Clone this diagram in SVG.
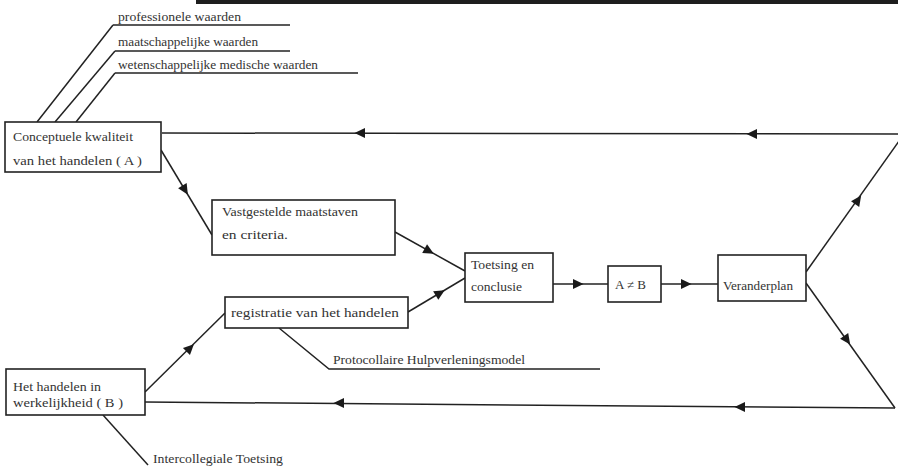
<svg xmlns="http://www.w3.org/2000/svg" xmlns:xlink="http://www.w3.org/1999/xlink" width="898" height="468" viewBox="0 0 898 468">
<style>
.box{fill:#fff;stroke:#222;stroke-width:1.6}
.ln{fill:none;stroke:#222;stroke-width:1.5}
.t{font-family:"Liberation Serif","DejaVu Serif",serif;font-size:12px;fill:#333}
.ah{fill:#1a1a1a}
</style>
<defs>
<path id="ah" class="ah" d="M5.5,0 L-5,-5 L-5,5 Z"/>
</defs>
<rect x="0" y="0" width="898" height="468" fill="#fff"/>
<rect x="196" y="0" width="702" height="4" fill="#1e1e1e"/>

<g id="connectors">
  <!-- leaders from value labels to box A -->
  <path class="ln" d="M113,25 L37,122"/>
  <path class="ln" d="M115,51 L55,122"/>
  <path class="ln" d="M115,73 L76,122"/>
  <!-- top feedback line -->
  <path class="ln" d="M162,133 L904,134"/>
  <use xlink:href="#ah" transform="translate(360,133) rotate(180)"/>
  <use xlink:href="#ah" transform="translate(752,134) rotate(180)"/>
  <!-- A -> Vastgestelde -->
  <path class="ln" d="M161,150 L212,235"/>
  <use xlink:href="#ah" transform="translate(185,190) rotate(58.5)"/>
  <!-- Vastgestelde -> Toetsing -->
  <path class="ln" d="M395,232 L465,271"/>
  <use xlink:href="#ah" transform="translate(429,251) rotate(29)"/>
  <!-- registratie -> Toetsing -->
  <path class="ln" d="M408,312 L465,278"/>
  <use xlink:href="#ah" transform="translate(440,293) rotate(-31)"/>
  <!-- Toetsing -> A≠B -->
  <path class="ln" d="M553,284 L608,284"/>
  <use xlink:href="#ah" transform="translate(578,284)"/>
  <!-- A≠B -> Veranderplan -->
  <path class="ln" d="M661,284 L718,284"/>
  <use xlink:href="#ah" transform="translate(686,284)"/>
  <!-- Veranderplan -> up right (to top line) -->
  <path class="ln" d="M806,272 L904,134"/>
  <use xlink:href="#ah" transform="translate(858,200) rotate(-54.8)"/>
  <!-- Veranderplan -> down right -->
  <path class="ln" d="M806,283 L895,408"/>
  <use xlink:href="#ah" transform="translate(847,340) rotate(54.8)"/>
  <!-- bottom feedback line -->
  <path class="ln" d="M895,408 L145,402"/>
  <use xlink:href="#ah" transform="translate(740,407) rotate(180)"/>
  <use xlink:href="#ah" transform="translate(339,403) rotate(180)"/>
  <!-- B -> registratie -->
  <path class="ln" d="M145,392 L225,313"/>
  <use xlink:href="#ah" transform="translate(190,348) rotate(-44.6)"/>
  <!-- leader registratie -> Protocollaire -->
  <path class="ln" d="M279,328 L329,369 L600,369"/>
  <!-- leader B -> Intercollegiale -->
  <path class="ln" d="M103,415 L148,465"/>
</g>

<g id="label-professionele">
  <text class="t" x="118" y="21" textLength="123" lengthAdjust="spacingAndGlyphs">professionele waarden</text>
  <path class="ln" d="M113,25 L290,25"/>
</g>
<g id="label-maatschappelijke">
  <text class="t" x="118" y="46" textLength="140" lengthAdjust="spacingAndGlyphs">maatschappelijke waarden</text>
  <path class="ln" d="M115,51 L290,51"/>
</g>
<g id="label-wetenschappelijke">
  <text class="t" x="118" y="69" textLength="200" lengthAdjust="spacingAndGlyphs">wetenschappelijke medische waarden</text>
  <path class="ln" d="M115,73 L358,73"/>
</g>

<g id="node-A">
  <rect class="box" x="5" y="122" width="156" height="50"/>
  <text class="t" x="13" y="141" textLength="120" lengthAdjust="spacingAndGlyphs">Conceptuele kwaliteit</text>
  <text class="t" x="13" y="165" textLength="129" lengthAdjust="spacingAndGlyphs">van het handelen ( A )</text>
</g>

<g id="node-vastgestelde">
  <rect class="box" x="212" y="200" width="183" height="55"/>
  <text class="t" x="222" y="216" textLength="136" lengthAdjust="spacingAndGlyphs">Vastgestelde maatstaven</text>
  <text class="t" x="222" y="239" textLength="66" lengthAdjust="spacingAndGlyphs">en criteria.</text>
</g>

<g id="node-toetsing">
  <rect class="box" x="465" y="253" width="88" height="49"/>
  <text class="t" x="471" y="269" textLength="63" lengthAdjust="spacingAndGlyphs">Toetsing en</text>
  <text class="t" x="471" y="291" textLength="51" lengthAdjust="spacingAndGlyphs">conclusie</text>
</g>

<g id="node-AneqB">
  <rect class="box" x="608" y="266" width="53" height="36"/>
  <text class="t" x="615" y="289" textLength="31" lengthAdjust="spacingAndGlyphs">A ≠ B</text>
</g>

<g id="node-veranderplan">
  <rect class="box" x="718" y="255" width="88" height="46"/>
  <text class="t" x="723" y="290" textLength="70" lengthAdjust="spacingAndGlyphs">Veranderplan</text>
</g>

<g id="node-registratie">
  <rect class="box" x="225" y="297" width="183" height="31"/>
  <text class="t" x="231" y="317" textLength="168" lengthAdjust="spacingAndGlyphs">registratie van het handelen</text>
</g>

<g id="label-protocollaire">
  <text class="t" x="333" y="364" textLength="192" lengthAdjust="spacingAndGlyphs">Protocollaire Hulpverleningsmodel</text>
</g>

<g id="node-B">
  <rect class="box" x="6" y="369" width="139" height="46"/>
  <text class="t" x="13" y="391" textLength="88" lengthAdjust="spacingAndGlyphs">Het handelen in</text>
  <text class="t" x="13" y="407" textLength="110" lengthAdjust="spacingAndGlyphs">werkelijkheid ( B )</text>
</g>

<g id="label-intercollegiale">
  <text class="t" x="153" y="463" textLength="130" lengthAdjust="spacingAndGlyphs">Intercollegiale Toetsing</text>
</g>
</svg>
